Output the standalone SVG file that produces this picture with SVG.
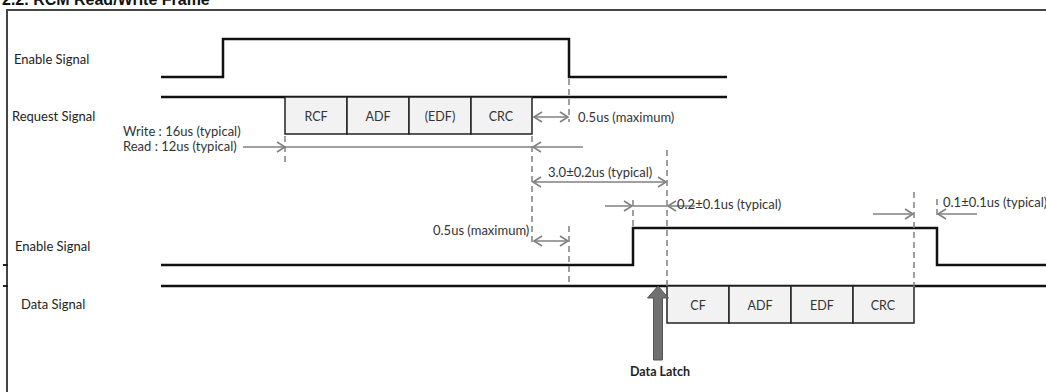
<svg xmlns="http://www.w3.org/2000/svg" width="1046" height="392" viewBox="0 0 1046 392">
<style>
text{font-family:Lato,"Open Sans","Liberation Sans",sans-serif;font-size:13px;fill:#333}
.lbl{fill:#222}
.sig{fill:none;stroke:#111;stroke-width:2.5}
.box{fill:#f2f2f2;stroke:#222;stroke-width:1.5}
.dash{fill:none;stroke:#808080;stroke-width:1.5;stroke-dasharray:6 4}
.dim{fill:none;stroke:#808080;stroke-width:1.5}
.bt{text-anchor:middle;font-size:12.5px}
</style>
<defs>
<marker id="ah" markerWidth="12" markerHeight="12" refX="10" refY="6" orient="auto-start-reverse" markerUnits="userSpaceOnUse">
<path d="M2,1 L10,6 L2,11" fill="none" stroke="#808080" stroke-width="1.6"/>
</marker>
</defs>
<rect width="1046" height="392" fill="#fff"/>
<text x="2" y="5" style="font-family:'Liberation Sans',sans-serif;font-size:16px;font-weight:bold;fill:#111">2.2. RCM Read/Write Frame</text>
<path d="M7,392 V10 H1046" fill="none" stroke="#444" stroke-width="2"/>
<path d="M3,265 H8 M3,286 H8" stroke="#222" stroke-width="2"/>

<g id="labels">
<text class="lbl" x="14" y="64">Enable Signal</text>
<text class="lbl" x="12" y="121">Request Signal</text>
<text class="lbl" x="15" y="251">Enable Signal</text>
<text class="lbl" x="21" y="309">Data Signal</text>
</g>

<g id="enable1"><path class="sig" d="M161,77 H223 V39 H569 V77 H727"/></g>
<g id="request"><path class="sig" d="M161,97 H727"/></g>
<g id="req-frame">
<rect class="box" x="285" y="97" width="62" height="37"/>
<rect class="box" x="347" y="97" width="62" height="37"/>
<rect class="box" x="409" y="97" width="62" height="37"/>
<rect class="box" x="471" y="97" width="61" height="37"/>
<text class="bt" x="316" y="121">RCF</text>
<text class="bt" x="378" y="121">ADF</text>
<text class="bt" x="440" y="121">(EDF)</text>
<text class="bt" x="501" y="121">CRC</text>
</g>
<g id="enable2"><path class="sig" d="M161,265 H633 V228 H937 V265 H1046"/></g>
<g id="data"><path class="sig" d="M161,286 H1046"/></g>
<g id="data-frame">
<rect class="box" x="667" y="286" width="62" height="37"/>
<rect class="box" x="729" y="286" width="62" height="37"/>
<rect class="box" x="791" y="286" width="62" height="37"/>
<rect class="box" x="853" y="286" width="61" height="37"/>
<text class="bt" x="698" y="310">CF</text>
<text class="bt" x="760" y="310">ADF</text>
<text class="bt" x="822" y="310">EDF</text>
<text class="bt" x="883" y="310">CRC</text>
</g>

<g id="connectors">
<path class="dash" d="M285,136 V162"/>
<path class="dash" d="M532,136 V244"/>
<path class="dash" d="M569,79 V122"/>
<path class="dash" d="M569,226 V286"/>
<path class="dash" d="M667,150 V287"/>
<path class="dash" d="M633,200 V228"/>
<path class="dash" d="M914,192 V287"/>
<path class="dash" d="M937,199 V216"/>

<path class="dim" d="M534,117 H568" marker-start="url(#ah)" marker-end="url(#ah)"/>
<path class="dim" d="M243,147 H285" marker-end="url(#ah)"/>
<path class="dim" d="M285,147 H532"/>
<path class="dim" d="M583,147 H533" marker-end="url(#ah)"/>
<path class="dim" d="M533,182 H666" marker-start="url(#ah)" marker-end="url(#ah)"/>
<path class="dim" d="M605,206 H632" marker-end="url(#ah)"/>
<path class="dim" d="M633,206 H667"/>
<path class="dim" d="M695,206 H668" marker-end="url(#ah)"/>
<path class="dim" d="M534,241 H568" marker-start="url(#ah)" marker-end="url(#ah)"/>
<path class="dim" d="M873,214 H913" marker-end="url(#ah)"/>
<path class="dim" d="M977,214 H938" marker-end="url(#ah)"/>
</g>

<g id="dim-labels">
<text x="578" y="122">0.5us (maximum)</text>
<text x="123" y="136">Write : 16us (typical)</text>
<text x="123" y="151">Read : 12us (typical)</text>
<text x="548" y="177">3.0±0.2us (typical)</text>
<text x="677" y="209">0.2±0.1us (typical)</text>
<text x="433" y="235">0.5us (maximum)</text>
<text x="943" y="207">0.1±0.1us (typical)</text>
</g>

<g id="data-latch">
<path d="M653.5,360 V298 H647.5 L658,286 L668.5,298 H662.5 V360 Z" fill="#707070" stroke="#555" stroke-width="1"/>
<text x="660" y="376" text-anchor="middle" style="font-weight:bold;font-size:12.5px;fill:#222">Data Latch</text>
</g>
</svg>
